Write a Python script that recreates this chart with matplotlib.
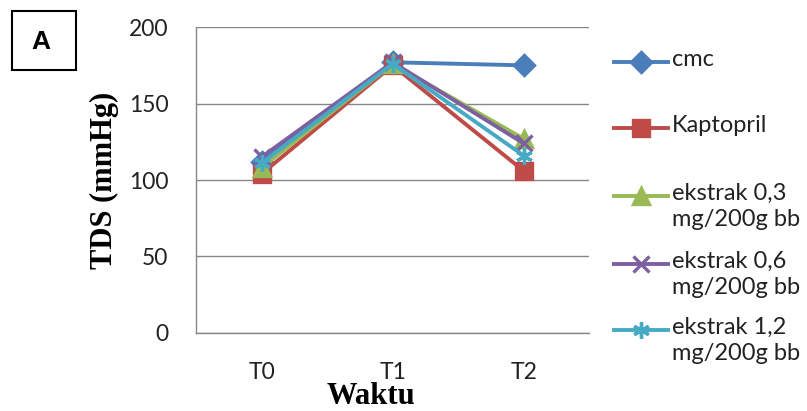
import matplotlib.pyplot as plt
from matplotlib.lines import Line2D
from matplotlib.patches import Rectangle

# TDS per kelompok pada T0, T1, T2
waktu = ['T0', 'T1', 'T2']
cmc = [112, 177, 175]
kaptopril = [104, 175, 106]
ekstrak_03 = [108, 176, 127]
ekstrak_06 = [115, 177, 124]
ekstrak_12 = [111, 176, 116]

labels = ['cmc', 'Kaptopril', 'ekstrak 0,3\nmg/200g bb',
          'ekstrak 0,6\nmg/200g bb', 'ekstrak 1,2\nmg/200g bb']
warna = ['#4A7EBB', '#BE4B48', '#98B954', '#7D60A0', '#46AAC5']
marker = ['D', 's', '^', 'x', (6, 2, 0)]
msize = [10, 12, 11, 11, 12]

plt.rcParams['font.family'] = ['Lato', 'DejaVu Sans']

fig = plt.figure(figsize=(8.07, 4.11), dpi=100)
ax = fig.add_axes([0.243, 0.19, 0.487, 0.744])

x = range(len(waktu))
semua = [cmc, kaptopril, ekstrak_03, ekstrak_06, ekstrak_12]
for data, c, m, ms in zip(semua, warna, marker, msize):
    ax.plot(x, data, color=c, lw=2.8, marker=m, ms=ms, mew=2.4,
            mfc=c, mec=c, zorder=3)

ax.set_xlim(-0.5, 2.5)
ax.set_ylim(0, 200)
ax.set_yticks([0, 50, 100, 150, 200])
ax.set_xticks(list(x))
ax.set_xticklabels(waktu)
ax.grid(axis='y', color='#878787', lw=1.0)
ax.set_axisbelow(True)
for s in ['top', 'right']:
    ax.spines[s].set_visible(False)
for s in ['left', 'bottom']:
    ax.spines[s].set_color('#878787')
    ax.spines[s].set_linewidth(1.0)
ax.tick_params(length=0, labelsize=16.5, colors='#222222')
ax.tick_params(axis='y', pad=20)
ax.tick_params(axis='x', pad=21)

ax.set_xlabel('Waktu', family='Liberation Serif', fontweight='bold',
              fontsize=22, va='center')
ax.xaxis.set_label_coords(0.445, -0.208)
ax.set_ylabel('TDS (mmHg)', family='Liberation Serif', fontweight='bold',
              fontsize=22, va='center')
ax.yaxis.set_label_coords(-0.232, 0.5)

# legenda di kanan, digambar manual
W, H = 807, 411
ys = [62, 128, 196, 264, 330]
for lab, c, m, ms, yy in zip(labels, warna, marker, msize, ys):
    yf = 1 - yy / H
    fig.add_artist(Line2D([614 / W, 668 / W], [yf, yf], color=c, lw=2.8))
    fig.add_artist(Line2D([641 / W], [yf], color=c, marker=m, ms=ms,
                          mew=2.4, mfc=c, mec=c))
    fig.text(672 / W, 1 - (yy - 13) / H, lab, fontsize=17, color='#222222',
             va='top', ha='left', linespacing=1.3)

# kotak label panel
fig.add_artist(Rectangle((12 / W, 1 - 70 / H), 64 / W, 59 / H,
                         fill=False, lw=1.5, ec='black',
                         transform=fig.transFigure))
fig.text(41 / W, 1 - 42 / H, 'A', fontsize=19, fontweight='bold',
         ha='center', va='center', family='Liberation Sans')

fig.savefig('out.png', dpi=100)
